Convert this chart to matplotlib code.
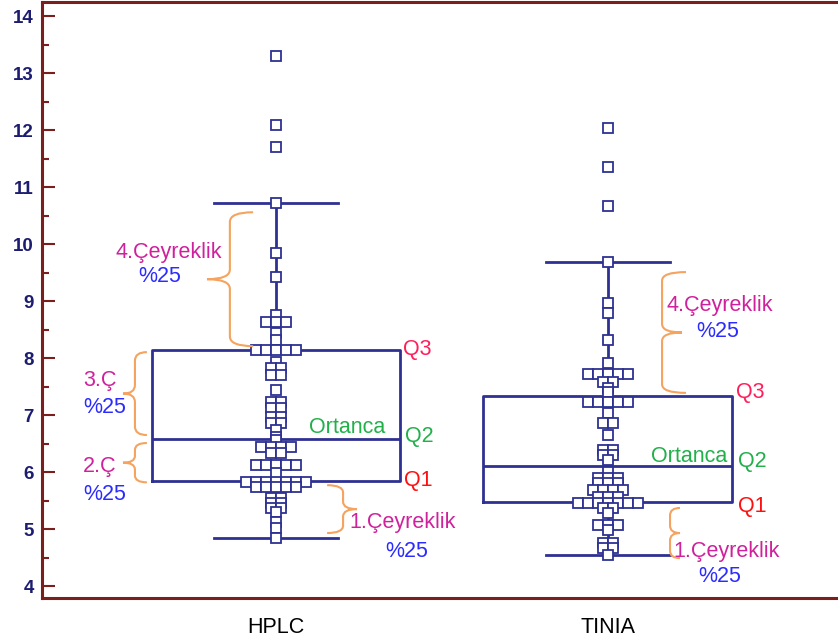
import numpy as np
import matplotlib
matplotlib.use("Agg")
import matplotlib.pyplot as plt
from matplotlib.path import Path
from matplotlib.patches import PathPatch

plt.rcParams['font.family'] = ['Liberation Sans', 'DejaVu Sans']

# data
groups = ['HPLC', 'TINIA']
hplc = [13.3, 12.1, 11.7, 10.72, 9.84, 9.42, 8.75, 8.63, 8.63, 8.63, 8.44, 8.32,
        8.14, 8.14, 8.14, 8.14, 8.14, 7.93, 7.82, 7.82, 7.70, 7.70, 7.44,
        7.23, 7.23, 7.12, 7.12, 6.97, 6.97, 6.86, 6.86, 6.74, 6.61, 6.56,
        6.44, 6.44, 6.44, 6.44, 6.33, 6.33, 6.12, 6.12, 6.12, 6.12, 6.12, 5.98,
        5.82, 5.82, 5.82, 5.82, 5.82, 5.82, 5.82, 5.74, 5.74, 5.74, 5.74, 5.74,
        5.54, 5.54, 5.46, 5.46, 5.37, 5.37, 5.30, 5.12, 5.02, 4.84]
tinia = [12.04, 11.35, 10.67, 9.68, 8.96, 8.80, 8.32, 7.91,
         7.72, 7.72, 7.72, 7.72, 7.72, 7.58, 7.58, 7.47, 7.40,
         7.23, 7.23, 7.23, 7.23, 7.23, 7.03, 6.86, 6.86, 6.65,
         6.39, 6.39, 6.30, 6.30, 6.21, 6.00, 5.90, 5.90, 5.90,
         5.81, 5.81, 5.81, 5.68, 5.68, 5.68, 5.68, 5.56, 5.56, 5.56,
         5.46, 5.46, 5.46, 5.46, 5.46, 5.46, 5.46, 5.37, 5.37, 5.28,
         5.07, 5.07, 5.07, 4.98, 4.75, 4.75, 4.67, 4.67, 4.54]
whislo = [4.84, 4.54]
q1 = [5.84, 5.47]
med = [6.58, 6.10]
q3 = [8.14, 7.33]
whishi = [10.72, 9.68]

navy = '#2e3192'
spine_c = '#7a1e1e'
orange = '#f5a35e'
magenta = '#d0219c'
blue = '#2b2bff'
green = '#22b04b'

fig = plt.figure(figsize=(8.38, 6.43), dpi=100)
ax = fig.add_axes([42 / 838, 45 / 643, 1 - 42 / 838, (598 - 2) / 643])

stats = []
for i in range(2):
    stats.append(dict(med=med[i], q1=q1[i], q3=q3[i], whislo=whislo[i],
                      whishi=whishi[i], fliers=[]))
lp = dict(color=navy, linewidth=2)
ax.bxp(stats, positions=[1, 2], widths=0.75, capwidths=0.375, showfliers=False,
       boxprops=lp, whiskerprops=lp, capprops=lp, medianprops=lp, zorder=2)


def swarm_x(vals, pos, step=0.03):
    vals = np.asarray(vals)
    xs = np.zeros(len(vals))
    for v in np.unique(vals):
        idx = np.where(vals == v)[0]
        n = len(idx)
        xs[idx] = pos + (np.arange(n) - (n - 1) / 2) * step
    return xs, vals


for pos, vals in zip([1, 2], [hplc, tinia]):
    xs, ys = swarm_x(vals, pos)
    ax.plot(xs, ys, 's', ms=7, mfc='white', mec=navy, mew=1.3, zorder=3)


def brace(x, y0, y1, arm, tip, r):
    # arm: signed length of the end arms, tip points the other way
    ym = (y0 + y1) / 2
    verts = [(x + arm, y1), (x, y1), (x, y1 - r),
             (x, ym + r), (x, ym), (x - tip, ym),
             (x, ym), (x, ym - r),
             (x, y0 + r), (x, y0), (x + arm, y0)]
    codes = [Path.MOVETO, Path.CURVE3, Path.CURVE3,
             Path.LINETO, Path.CURVE3, Path.CURVE3,
             Path.CURVE3, Path.CURVE3,
             Path.LINETO, Path.CURVE3, Path.CURVE3]
    ax.add_patch(PathPatch(Path(verts, codes), fc='none', ec=orange, lw=1.5, zorder=4))


brace(0.861, 8.21, 10.56, 0.07, 0.069, 0.17)
brace(0.575, 6.65, 8.105, 0.036, 0.036, 0.15)
brace(0.575, 5.82, 6.51, 0.036, 0.036, 0.12)
brace(1.202, 4.93, 5.77, -0.048, -0.042, 0.13)
brace(2.163, 7.39, 9.51, 0.072, -0.06, 0.15)
brace(2.187, 4.49, 5.37, 0.03, -0.03, 0.13)

fs = 15.5
def label(x, y, s, c):
    ax.text(x, y, s, color=c, fontsize=fs, ha='center', va='center', zorder=5)

label(0.678, 9.86, '4.Çeyreklik', magenta)
label(0.651, 9.44, '%25', blue)
label(0.470, 7.61, '3.Ç', magenta)
label(0.485, 7.14, '%25', blue)
label(0.470, 6.09, '2.Ç', magenta)
label(0.485, 5.61, '%25', blue)
label(1.425, 8.16, 'Q3', '#ff1f5a')
label(1.431, 6.63, 'Q2', green)
label(1.428, 5.86, 'Q1', '#ff1010')
label(1.214, 6.79, 'Ortanca', green)
label(1.380, 5.11, '1.Çeyreklik', magenta)
label(1.395, 4.61, '%25', blue)
label(2.337, 8.93, '4.Çeyreklik', magenta)
label(2.331, 8.46, '%25', blue)
label(2.428, 7.39, 'Q3', '#ff1f5a')
label(2.244, 6.28, 'Ortanca', green)
label(2.434, 6.18, 'Q2', green)
label(2.434, 5.40, 'Q1', '#ff1010')
label(2.358, 4.61, '1.Çeyreklik', magenta)
label(2.337, 4.16, '%25', blue)

ax.set_xlim(0.295, 2.693)
ax.set_ylim(3.79, 14.25)
ax.set_yticks(range(4, 15))
ax.set_yticks(np.arange(4.5, 14, 1.0), minor=True)
ax.set_xticks([1, 2])
ax.set_xticklabels(groups, fontsize=15.5, color='black')
ax.tick_params(axis='x', length=0, pad=14)
ax.tick_params(axis='y', which='major', direction='in', length=9, width=1.5,
               color=spine_c, labelcolor='#1c1c70', labelsize=13.5, pad=6)
ax.tick_params(axis='y', which='minor', direction='in', length=5, width=1.5, color=spine_c)
for t in ax.get_yticklabels():
    t.set_fontweight('bold')
for s in ['left', 'bottom', 'top']:
    ax.spines[s].set_color(spine_c)
    ax.spines[s].set_linewidth(2.2)
ax.spines['right'].set_visible(False)

fig.savefig('out.png', dpi=100)
